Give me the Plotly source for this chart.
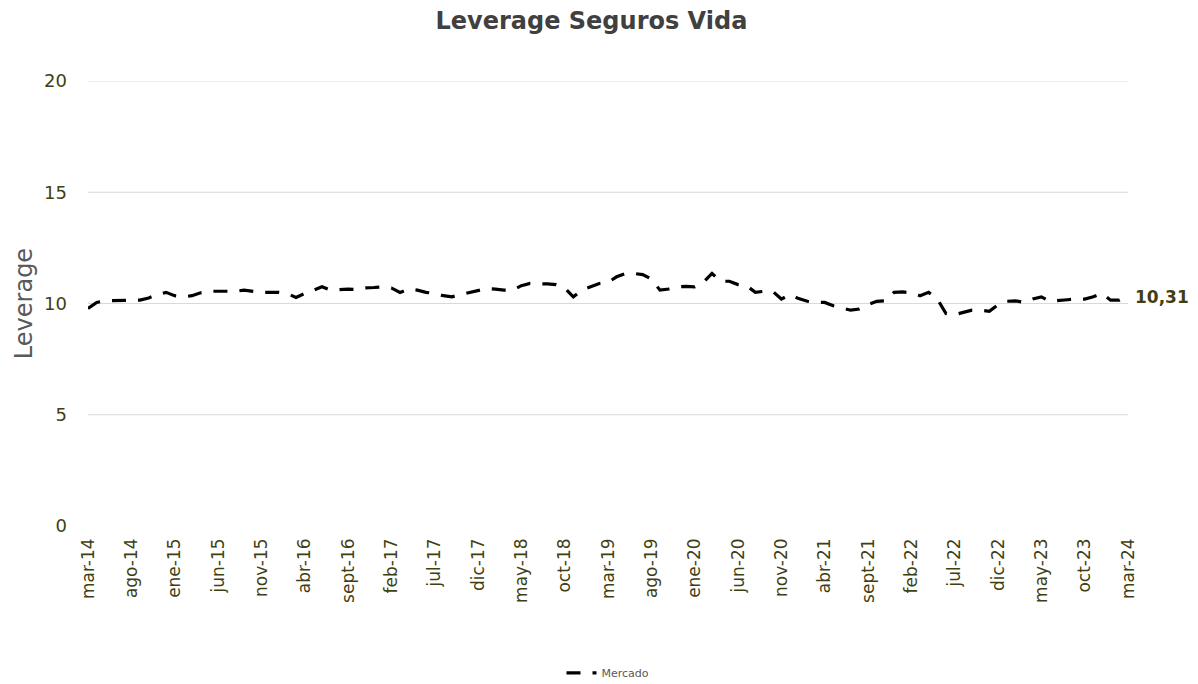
import plotly.graph_objects as go

months = ["ene", "feb", "mar", "abr", "may", "jun", "jul", "ago", "sept", "oct", "nov", "dic"]
categories = []
for yr in range(14, 25):
    for mi, m in enumerate(months):
        if yr == 14 and mi < 2:
            continue
        if yr == 24 and mi > 2:
            continue
        categories.append(f"{m}-{yr:02d}")

mercado = [
    # 2014 (mar-dic)
    9.78, 10.05, 10.12, 10.12, 10.15, 10.12, 10.15, 10.25, 10.40, 10.50,
    # 2015
    10.35, 10.30, 10.35, 10.48, 10.55, 10.55, 10.55, 10.55, 10.60, 10.55, 10.50, 10.50,
    # 2016
    10.50, 10.45, 10.27, 10.45, 10.60, 10.75, 10.60, 10.62, 10.65, 10.63, 10.70, 10.72,
    # 2017
    10.75, 10.70, 10.50, 10.65, 10.60, 10.50, 10.45, 10.35, 10.30, 10.40, 10.50, 10.60,
    # 2018
    10.67, 10.65, 10.60, 10.60, 10.80, 10.90, 10.90, 10.88, 10.85, 10.70, 10.30, 10.60,
    # 2019
    10.75, 10.90, 10.95, 11.20, 11.35, 11.35, 11.30, 11.10, 10.60, 10.65, 10.75, 10.77,
    # 2020
    10.75, 10.95, 11.35, 11.00, 11.00, 10.85, 10.80, 10.50, 10.55, 10.55, 10.20, 10.40,
    # 2021
    10.22, 10.10, 10.05, 10.05, 9.90, 9.80, 9.70, 9.75, 9.95, 10.10, 10.12, 10.50,
    # 2022
    10.52, 10.48, 10.35, 10.50, 10.20, 9.55, 9.50, 9.60, 9.70, 9.70, 9.65, 9.95,
    # 2023
    10.10, 10.12, 10.05, 10.20, 10.30, 10.10, 10.15, 10.17, 10.20, 10.20, 10.30, 10.45,
    # 2024 (ene-mar)
    10.15, 10.15, 10.31,
]

tick_labels = categories[::5]
y_ticks = [0, 5, 10, 15, 20]
grid_values = [5, 10, 15, 20]
last_label = "10,31"

FONT = "DejaVu Sans"
OLIVE = "#3f3f14"

fig = go.Figure()
fig.add_trace(go.Scatter(
    x=categories, y=mercado, mode="lines", name="Mercado",
    line=dict(color="black", width=3.2, dash="14px,12px"),
))

for g in grid_values:
    fig.add_shape(type="line", xref="paper", yref="y", x0=0, x1=1, y0=g, y1=g,
                  line=dict(color="#d9d9d9", width=1), layer="below")

fig.add_annotation(x=categories[-1], y=mercado[-1], text=f"<b>{last_label}</b>",
                   showarrow=False, xanchor="left", xshift=5,
                   font=dict(family=FONT, size=17, color=OLIVE))

fig.update_layout(
    width=1198, height=684,
    paper_bgcolor="white", plot_bgcolor="white",
    margin=dict(l=80, r=78, t=73, b=166, autoexpand=False),
    title=dict(text="<b>Leverage Seguros Vida</b>", x=0.487, xanchor="center",
               y=0.982, yanchor="middle",
               font=dict(family=FONT, size=24, color="#404040")),
    showlegend=True,
    legend=dict(orientation="h", x=0.5, xanchor="center",
                yref="container", y=0.028, yanchor="middle",
                font=dict(family=FONT, size=11, color="#595959")),
    xaxis=dict(type="category", range=[0, len(categories) - 1],
               tickmode="array", tickvals=tick_labels, ticktext=tick_labels,
               tickangle=-90, showgrid=False, zeroline=False, showline=False,
               ticks="", ticklabelstandoff=8, automargin=False,
               tickfont=dict(family=FONT, size=17, color=OLIVE)),
    yaxis=dict(range=[0, 20], tickmode="array", tickvals=y_ticks,
               showgrid=False, zeroline=False, showline=False, ticks="",
               ticklabelstandoff=20, automargin=False,
               tickfont=dict(family=FONT, size=18, color=OLIVE),
               title=dict(text="Leverage", standoff=4,
                          font=dict(family=FONT, size=24, color="#595959"))),
)

fig.write_html("out.html")
